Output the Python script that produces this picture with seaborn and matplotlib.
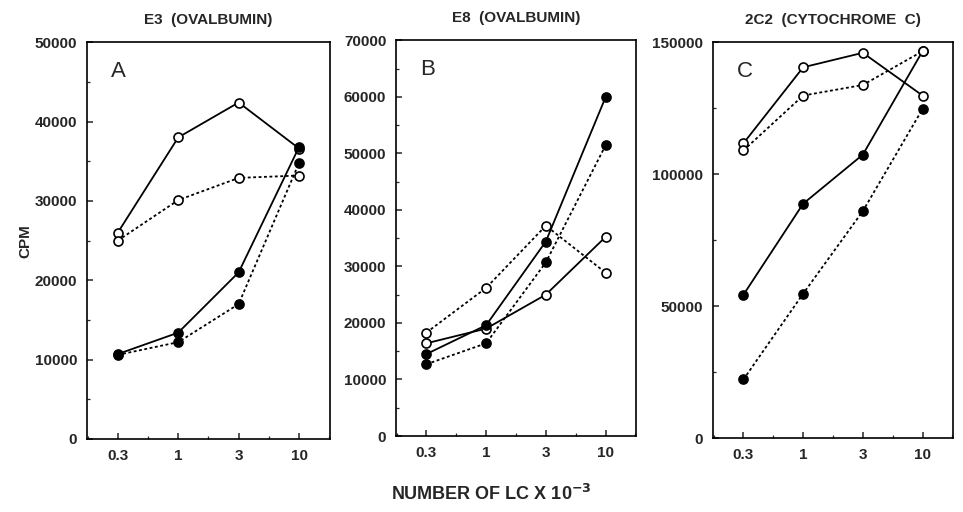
import numpy as np
import pandas as pd
import seaborn as sns
import matplotlib.pyplot as plt
from matplotlib.ticker import MultipleLocator

sns.set_theme(style="ticks")
plt.rcParams['font.family'] = ['Liberation Sans', 'DejaVu Sans']

# cell numbers (x 10^-3), evenly spaced on the axis
lc_labels = ['0.3', '1', '3', '10']

# panel A - E3 (ovalbumin)
a_open_solid = [26000, 38000, 42400, 36600]
a_open_dot = [25000, 30100, 32900, 33200]
a_fill_solid = [10700, 13400, 21000, 36800]
a_fill_dot = [10600, 12200, 17000, 34800]

# panel B - E8 (ovalbumin)
b_open_solid = [16400, 19000, 25000, 35200]
b_open_dot = [18300, 26200, 37200, 28900]
b_fill_solid = [14500, 19600, 34400, 59900]
b_fill_dot = [12700, 16400, 30700, 51400]

# panel C - 2C2 (cytochrome c)
c_open_solid = [111700, 140500, 146000, 129800]
c_open_dot = [109000, 129800, 133800, 146600]
c_fill_solid = [54300, 88800, 107400, 146600]
c_fill_dot = [22200, 54700, 86000, 124700]

titles = ['E3  (OVALBUMIN)', 'E8  (OVALBUMIN)', '2C2  (CYTOCHROME  C)']
letters = ['A', 'B', 'C']
ymax = [50000, 70000, 150000]
ystep = [10000, 10000, 50000]

panels = [
    [a_open_solid, a_open_dot, a_fill_solid, a_fill_dot],
    [b_open_solid, b_open_dot, b_fill_solid, b_fill_dot],
    [c_open_solid, c_open_dot, c_fill_solid, c_fill_dot],
]

fig = plt.figure(figsize=(9.63, 5.12), dpi=100)
boxes = [
    [0.0903, 0.1426, 0.2523, 0.775],
    [0.4112, 0.1484, 0.2492, 0.773],
    [0.7404, 0.1445, 0.2492, 0.773],
]

x = np.arange(len(lc_labels))

for i, box in enumerate(boxes):
    ax = fig.add_axes(box)
    os_, od, fs, fd = panels[i]
    df = pd.DataFrame({'x': x, 'os': os_, 'od': od, 'fs': fs, 'fd': fd})
    # open symbols on top only in panel C
    z_open = 4 if i == 2 else 2
    z_fill = 3
    for col, filled, ls in [('os', False, '-'), ('od', False, (0, (1.6, 1.4))),
                            ('fs', True, '-'), ('fd', True, (0, (1.6, 1.4)))]:
        sns.lineplot(data=df, x='x', y=col, ax=ax, color='black',
                     linewidth=1.3, linestyle=ls, marker='o', markersize=6.5,
                     markerfacecolor='black' if filled else 'white',
                     markeredgecolor='black', markeredgewidth=1.2,
                     zorder=z_fill if filled else z_open, clip_on=False)

    ax.set_xlim(-0.51, 3.51)
    ax.set_ylim(0, ymax[i])
    ax.set_xticks(x)
    ax.set_xticklabels(lc_labels)
    ax.xaxis.set_minor_locator(MultipleLocator(0.5))
    ax.yaxis.set_major_locator(MultipleLocator(ystep[i]))
    ax.yaxis.set_minor_locator(MultipleLocator(ystep[i] / 2))
    ax.tick_params(which='major', direction='in', length=4, width=1.1,
                   labelsize=11, pad=7)
    ax.tick_params(which='minor', direction='in', length=2.5, width=0.9)
    for lab in ax.get_xticklabels() + ax.get_yticklabels():
        lab.set_fontweight('bold')
    for sp in ax.spines.values():
        sp.set_visible(True)
        sp.set_linewidth(1.2)
        sp.set_color('black')
    ax.set_xlabel('')
    ax.set_ylabel('')
    ax.set_title(titles[i], fontsize=11, fontweight='bold', pad=13)
    ax.text(0.1, 0.925, letters[i], transform=ax.transAxes, fontsize=16,
            ha='left', va='center')

fig.text(0.026, 0.53, 'CPM', rotation=90, ha='center', va='center',
         fontsize=11, fontweight='bold')
fig.text(0.51, 0.035, 'NUMBER OF LC X 10$^{\\mathbf{-3}}$', ha='center',
         va='center', fontsize=13, fontweight='bold')

fig.savefig('out.png', dpi=100, facecolor='white')
